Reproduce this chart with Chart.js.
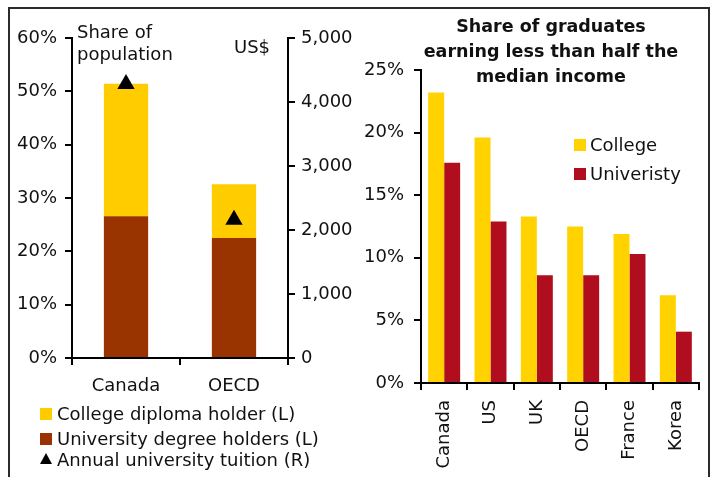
<!DOCTYPE html>
<html>
<head>
<meta charset="utf-8">
<script src="https://cdn.jsdelivr.net/npm/chart.js@4"></script>
<style>
  html, body { margin: 0; padding: 0; background: #fff; }
  body { width: 711px; height: 477px; position: relative; overflow: hidden; font-family: "DejaVu Sans", Verdana, sans-serif; color: #111; }
  canvas { position: absolute; top: 0; }
  #frame { position: absolute; left: 8px; top: 7px; width: 702px; height: 480px; box-sizing: border-box; border: 2px solid #2b2b2b; border-bottom: none; }
  .txt { position: absolute; font-size: 18px; line-height: 20px; white-space: nowrap; }
  .box { position: absolute; width: 12px; height: 12px; }
  .tri { position: absolute; width: 0; height: 0; border-left: 6px solid transparent; border-right: 6px solid transparent; border-bottom: 11px solid #000; }
  #title { position: absolute; left: 401px; width: 300px; top: 14px; text-align: center; font-weight: bold; font-size: 17.5px; line-height: 25px; }
</style>
</head>
<body>
<div id="frame"></div>
<canvas id="left" width="360" height="477" style="left:0"></canvas>
<canvas id="right" width="361" height="477" style="left:350px"></canvas>

<div class="txt" style="left:77px; top:21px; line-height:22px;">Share of<br>population</div>
<div class="txt" style="left:234px; top:37px;">US$</div>

<div class="box" style="left:40px; top:408px; background:#FFCC00"></div>
<div class="txt" style="left:57px; top:404px;">College diploma holder (L)</div>
<div class="box" style="left:40px; top:433px; background:#993300"></div>
<div class="txt" style="left:57px; top:429px;">University degree holders (L)</div>
<div class="tri" style="left:40px; top:453px;"></div>
<div class="txt" style="left:57px; top:450px;">Annual university tuition (R)</div>

<div id="title">Share of graduates<br>earning less than half the<br>median income</div>

<div class="box" style="left:574px; top:139px; background:#FFD200"></div>
<div class="txt" style="left:590px; top:135px;">College</div>
<div class="box" style="left:574px; top:168px; background:#B00D1F"></div>
<div class="txt" style="left:590px; top:164px;">Univeristy</div>

<script>
// ---- Left chart data ----
const leftCategories = ['Canada', 'OECD'];
const universityShare = [26.6, 22.5];   // % of population, university degree holders (L)
const collegeShare = [24.8, 10.1];      // % of population, college diploma holders (L)
const tuition = [4280, 2160];           // US$, annual university tuition (R)
const leftTicks = [0, 10, 20, 30, 40, 50, 60];
const rightTicks = [0, 1000, 2000, 3000, 4000, 5000];

// ---- Right chart data ----
const rightCategories = ['Canada', 'US', 'UK', 'OECD', 'France', 'Korea'];
const collegeLow = [23.2, 19.6, 13.3, 12.5, 11.9, 7.0];
const universityLow = [17.6, 12.9, 8.6, 8.6, 10.3, 4.1];
const lowTicks = [0, 5, 10, 15, 20, 25];

Chart.defaults.font.family = '"DejaVu Sans", Verdana, sans-serif';
Chart.defaults.font.size = 18;
Chart.defaults.color = '#111';
Chart.defaults.animation = false;

const axisCommon = {
  grid: { drawOnChartArea: false, drawTicks: true, tickLength: 7, color: '#000', lineWidth: 2 },
  border: { display: true, color: '#000', width: 2 }
};

new Chart(document.getElementById('left'), {
  type: 'bar',
  data: {
    labels: leftCategories,
    datasets: [
      { label: 'University degree holders (L)', data: universityShare, backgroundColor: '#993300', yAxisID: 'y', stack: 's', order: 2 },
      { label: 'College diploma holder (L)', data: collegeShare, backgroundColor: '#FFCC00', yAxisID: 'y', stack: 's', order: 2 },
      { type: 'line', label: 'Annual university tuition (R)', data: tuition, yAxisID: 'y1', showLine: false,
        pointStyle: 'triangle', pointRadius: 10, pointHoverRadius: 10, backgroundColor: '#000', borderColor: '#000', borderWidth: 0, order: 0 }
    ]
  },
  options: {
    responsive: false,
    layout: { padding: { top: 38, left: 0, right: 0, bottom: 0 } },
    plugins: { legend: { display: false }, tooltip: { enabled: false } },
    datasets: { bar: { categoryPercentage: 1.0, barPercentage: 0.41 } },
    scales: {
      x: { ...axisCommon, stacked: true, ticks: { padding: 11 },
           afterFit: s => { s.height = 119; } },
      y: { ...axisCommon, position: 'left', stacked: true, min: 0, max: 60,
           afterBuildTicks: s => { s.ticks = leftTicks.map(v => ({ value: v })); },
           ticks: { padding: 8, callback: v => v + '%' },
           afterFit: s => { s.width = 72; } },
      y1: { ...axisCommon, position: 'right', stacked: false, min: 0, max: 5000,
           afterBuildTicks: s => { s.ticks = rightTicks.map(v => ({ value: v })); },
           ticks: { padding: 6, callback: v => v.toLocaleString('en-US') },
           afterFit: s => { s.width = 72; } }
    }
  }
});

new Chart(document.getElementById('right'), {
  type: 'bar',
  data: {
    labels: rightCategories,
    datasets: [
      { label: 'College', data: collegeLow, backgroundColor: '#FFD200' },
      { label: 'Univeristy', data: universityLow, backgroundColor: '#B00D1F' }
    ]
  },
  options: {
    responsive: false,
    layout: { padding: { top: 70, left: 0, right: 12, bottom: 0 } },
    plugins: { legend: { display: false }, tooltip: { enabled: false } },
    datasets: { bar: { categoryPercentage: 0.69, barPercentage: 1.0 } },
    scales: {
      x: { ...axisCommon, ticks: { padding: 10, minRotation: 90, maxRotation: 90, autoSkip: false },
           afterFit: s => { s.height = 94; } },
      y: { ...axisCommon, min: 0, max: 25,
           afterBuildTicks: s => { s.ticks = lowTicks.map(v => ({ value: v })); },
           ticks: { padding: 10, callback: v => v + '%' },
           afterFit: s => { s.width = 71; } }
    }
  }
});
</script>
</body>
</html>
